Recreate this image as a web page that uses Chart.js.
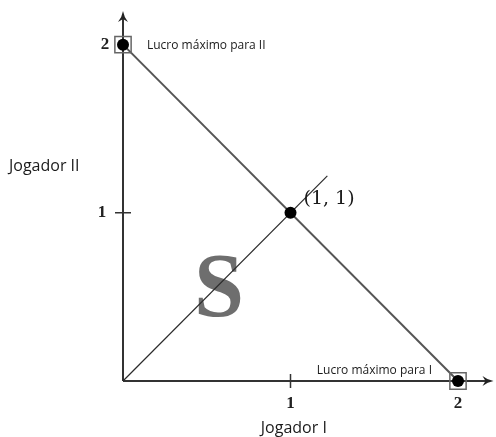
<!DOCTYPE html>
<html>
<head>
<meta charset="utf-8">
<script src="https://cdn.jsdelivr.net/npm/chart.js@4"></script>
<style>
html,body{margin:0;padding:0;background:#fff;}
#c{display:block;}
</style>
</head>
<body>
<canvas id="c" width="496" height="437"></canvas>
<script>
// ---- data ----
const axisMax = 2.2;
const tickValues = [1, 2];
const tickLabels = ['1', '2'];
const frontierX = [0, 2];
const frontierY = [2, 0];
const diagonalX = [0, 1.22];
const diagonalY = [0, 1.22];
const pointX = [0, 1, 2];
const pointY = [2, 1, 0];
const maxPointX = [0, 2];
const maxPointY = [2, 0];
const xTitle = 'Jogador I';
const yTitle = 'Jogador II';
const maxLabelII = 'Lucro máximo para II';
const maxLabelI = 'Lucro máximo para I';
const midLabel = '(1, 1)';
const regionLabel = 'S';
const regionPos = [0.573, 0.385];

const toPts = (xs, ys) => xs.map((x, i) => ({x: x, y: ys[i]}));

function arrow(ctx, x, y, dir) {
  ctx.save();
  ctx.translate(x, y);
  if (dir === 'right') ctx.rotate(Math.PI / 2);
  ctx.beginPath();
  ctx.moveTo(0, 0);
  ctx.quadraticCurveTo(1, 6, 5, 11);
  ctx.lineTo(0, 8);
  ctx.lineTo(-5, 11);
  ctx.quadraticCurveTo(-1, 6, 0, 0);
  ctx.closePath();
  ctx.fillStyle = '#222';
  ctx.fill();
  ctx.restore();
}

const decor = {
  id: 'decor',
  beforeDatasetsDraw(chart) {
    const ctx = chart.ctx;
    const xs = chart.scales.x, ys = chart.scales.y;
    const x0 = xs.getPixelForValue(0), y0 = ys.getPixelForValue(0);
    const xe = xs.getPixelForValue(axisMax), ye = ys.getPixelForValue(axisMax);
    ctx.save();
    // region label S (behind lines)
    ctx.fillStyle = '#6e6e6e';
    ctx.font = 'bold 90px "Liberation Serif"';
    ctx.textAlign = 'center';
    ctx.textBaseline = 'alphabetic';
    ctx.fillText(regionLabel, xs.getPixelForValue(regionPos[0]), ys.getPixelForValue(regionPos[1]));
    // axes
    ctx.strokeStyle = '#333';
    ctx.lineWidth = 2;
    ctx.beginPath();
    ctx.moveTo(x0, y0); ctx.lineTo(xe - 4, y0);
    ctx.moveTo(x0, y0); ctx.lineTo(x0, ye + 4);
    ctx.stroke();
    arrow(ctx, x0, ye, 'up');
    arrow(ctx, xe + 2, y0, 'right');
    // tick marks
    ctx.lineWidth = 1.5;
    ctx.beginPath();
    const px = xs.getPixelForValue(tickValues[0]);
    ctx.moveTo(px, y0 - 7); ctx.lineTo(px, y0 + 7);
    const py = ys.getPixelForValue(tickValues[0]);
    ctx.moveTo(x0 - 8, py); ctx.lineTo(x0 + 8, py);
    ctx.stroke();
    // tick labels
    ctx.fillStyle = '#222';
    ctx.font = 'bold 17px "Liberation Serif"';
    ctx.textAlign = 'center';
    ctx.textBaseline = 'middle';
    tickValues.forEach((v, i) => {
      ctx.fillText(tickLabels[i], xs.getPixelForValue(v), y0 + 23);
      ctx.fillText(tickLabels[i], x0 - (v === 2 ? 18 : 21), ys.getPixelForValue(v));
    });
    ctx.restore();
  },
  afterDatasetsDraw(chart) {
    const ctx = chart.ctx;
    const xs = chart.scales.x, ys = chart.scales.y;
    const x0 = xs.getPixelForValue(0), y0 = ys.getPixelForValue(0);
    ctx.save();
    ctx.fillStyle = '#1a1a1a';
    ctx.textBaseline = 'alphabetic';
    ctx.textAlign = 'left';
    ctx.font = '12px "Open Sans"';
    ctx.fillText(maxLabelII, x0 + 24, ys.getPixelForValue(2) + 4);
    ctx.textAlign = 'right';
    ctx.fillText(maxLabelI, xs.getPixelForValue(2) - 26, y0 - 7);
    ctx.textAlign = 'left';
    ctx.font = '16px "Open Sans"';
    ctx.fillText(yTitle, 9, ys.getPixelForValue(1) - 42);
    ctx.textAlign = 'center';
    ctx.fillText(xTitle, xs.getPixelForValue(1.02), y0 + 52);
    ctx.textAlign = 'left';
    ctx.font = '19px "DejaVu Serif"';
    ctx.fillText(midLabel, xs.getPixelForValue(1) + 13, ys.getPixelForValue(1) - 9);
    ctx.restore();
  }
};

new Chart(document.getElementById('c'), {
  type: 'scatter',
  data: {
    datasets: [
      {
        data: toPts(frontierX, frontierY),
        showLine: true, borderColor: '#555', borderWidth: 2,
        pointRadius: 0, clip: false, order: 4
      },
      {
        data: toPts(diagonalX, diagonalY),
        showLine: true, borderColor: '#2a2a2a', borderWidth: 1.2,
        pointRadius: 0, clip: false, order: 3
      },
      {
        data: toPts(maxPointX, maxPointY),
        showLine: false, pointStyle: 'rect', pointRadius: 11.5,
        pointBackgroundColor: 'rgba(0,0,0,0)', pointBorderColor: '#666',
        pointBorderWidth: 1.5, clip: false, order: 2
      },
      {
        data: toPts(pointX, pointY),
        showLine: false, pointRadius: 6,
        pointBackgroundColor: '#000', pointBorderColor: '#000', pointBorderWidth: 0,
        clip: false, order: 1
      }
    ]
  },
  options: {
    responsive: false,
    animation: false,
    devicePixelRatio: 1,
    layout: {autoPadding: false, padding: {left: 123, right: 4.5, top: 11, bottom: 56}},
    plugins: {legend: {display: false}, tooltip: {enabled: false}},
    scales: {
      x: {type: 'linear', min: 0, max: axisMax, display: false},
      y: {type: 'linear', min: 0, max: axisMax, display: false}
    }
  },
  plugins: [decor]
});
</script>
</body>
</html>
